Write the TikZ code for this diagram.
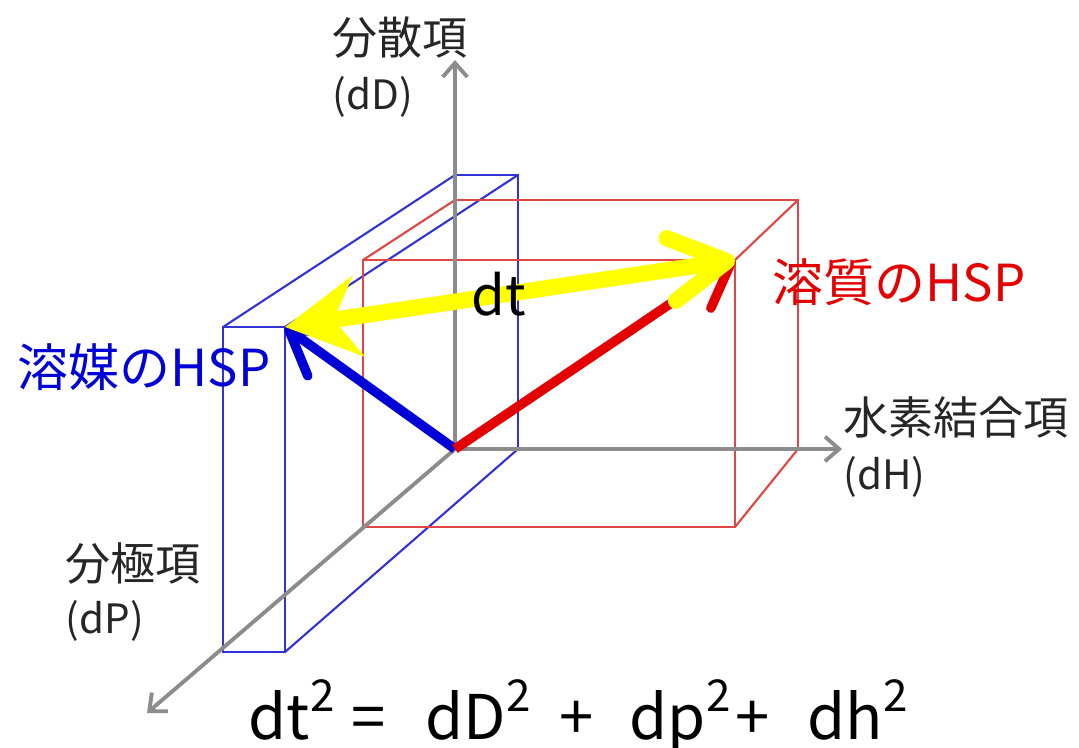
\documentclass[tikz,border=0pt]{standalone}
\usepackage{fontspec}
\setmainfont{Noto Sans CJK JP}
\usetikzlibrary{arrows.meta}

\definecolor{axisgray}{RGB}{140,140,140}
\definecolor{slabblue}{RGB}{50,50,215}
\definecolor{cubered}{RGB}{225,70,70}
\definecolor{hspblue}{RGB}{0,0,215}
\definecolor{hspred}{RGB}{228,0,0}
\definecolor{dtyellow}{RGB}{255,255,0}

\newcommand{\twosup}{\raisebox{7.7pt}{\fontsize{12.5}{13}\selectfont 2}}

\tikzset{
  axis/.style={axisgray, line width=1.1pt, -{Straight Barb[length=4pt,width=7pt]}},
  slab/.style={slabblue, line width=0.6pt},
  cube/.style={cubered, line width=0.6pt},
  vec/.style={line width=2.7pt, -{Straight Barb[length=12pt,width=15pt,round]}},
  dist/.style={dtyellow, line width=4.6pt,
    {Stealth[length=21pt,width=23pt,inset=7pt]}-{Straight Barb[length=16pt,width=18pt,round]}},
  lab/.style={black!85, inner sep=0pt, anchor=west},
  eqpart/.style={inner sep=0pt, anchor=base west, font=\fontsize{17.5}{20}\selectfont},
}

\begin{document}
\begin{tikzpicture}[x=0.01cm, y=-0.01cm]
    \useasboundingbox (0,0) rectangle (1079,747);

    % Points
    \coordinate (O) at (455,449);
    \coordinate (solv) at (285,327);
    \coordinate (solu) at (735,260);
    \coordinate (Dend) at (455,60);
    \coordinate (Hend) at (842,449);
    \coordinate (Pend) at (147,713);

    % Solvent slab (blue)
    \draw[slab] (223,327) rectangle (285,652);
    \draw[slab] (455,175) -- (518,175) -- (518,449);
    \draw[slab] (223,327) -- (455,175);
    \draw[slab] (285,327) -- (518,175);
    \draw[slab] (285,652) -- (518,449);

    % Solute box (red)
    \draw[cube] (363,260) rectangle (735,527);
    \draw[cube] (455,200) -- (798,200) -- (798,449);
    \draw[cube] (363,260) -- (455,200);
    \draw[cube] (735,260) -- (798,200);
    \draw[cube] (735,527) -- (798,449);

    % Axes
    \draw[axis] (O) -- (Dend);
    \draw[axis] (O) -- (Hend);
    \draw[axis] (O) -- (Pend);

    % HSP vectors
    \draw[vec, hspblue] (O) -- (solv);
    \draw[vec, hspred] (O) -- (solu);

    % Distance
    \draw[dist] (solv) -- (solu);
    \node[inner sep=0pt, anchor=base west, font=\fontsize{15.5}{16}\selectfont] (dt) at (471,315) {dt};

    % Axis labels
    \node[lab, font=\fontsize{12.8}{14}\selectfont] (dDlab) at (332,37) {分散項};
    \node[lab, font=\fontsize{11.5}{13}\selectfont] (dDsym) at (332,97) {(dD)};
    \node[lab, font=\fontsize{12.8}{14}\selectfont] (dHlab) at (843,417) {水素結合項};
    \node[lab, font=\fontsize{11.5}{13}\selectfont] (dHsym) at (843,477) {(dH)};
    \node[lab, font=\fontsize{12.8}{14}\selectfont] (dPlab) at (65,563) {分極項};
    \node[lab, font=\fontsize{11.5}{13}\selectfont] (dPsym) at (65,621) {(dP)};

    % HSP labels
    \node[lab, hspred, font=\fontsize{14.5}{16}\selectfont] (solulab) at (772,282) {溶質のHSP};
    \node[lab, hspblue, font=\fontsize{14.5}{16}\selectfont] (solvlab) at (17,367) {溶媒のHSP};

    % Formula
    \node[eqpart] (eqdt) at (248,739) {dt\twosup};
    \node[eqpart] (eqis) at (351,739) {=};
    \node[eqpart] (eqdD) at (425,739) {dD\twosup};
    \node[eqpart] (eqpA) at (559,739) {+};
    \node[eqpart] (eqdp) at (629,739) {dp\twosup};
    \node[eqpart] (eqpB) at (735,739) {+};
    \node[eqpart] (eqdh) at (807,739) {dh\twosup};
\end{tikzpicture}
\end{document}
